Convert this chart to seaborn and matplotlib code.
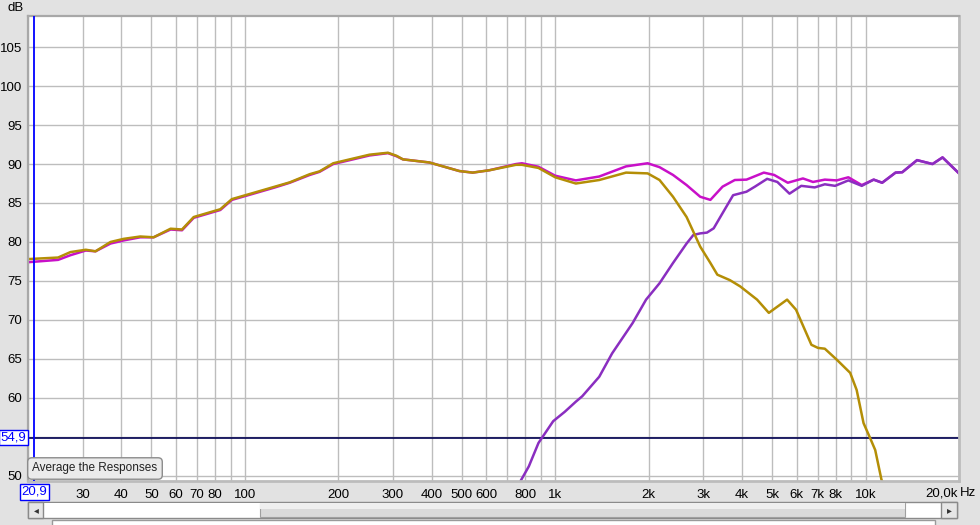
import numpy as np
import pandas as pd
import matplotlib
matplotlib.use("Agg")
import matplotlib.pyplot as plt
from matplotlib.patches import Rectangle
import seaborn as sns

# summed response (magenta)
sum_hz = [20, 25, 27.4, 30.7, 33, 36.9, 40.7, 46, 50.8, 57.6, 62.7, 68.4, 75.5, 83.3, 90.8,
          106.6, 125, 139.5, 161.8, 174, 192.6, 223, 252, 289, 308, 323, 393, 491, 542, 613,
          747, 781, 883, 1000, 1165, 1386, 1691, 1985, 2168, 2396, 2650, 2932, 3162, 3461,
          3790, 4134, 4700, 5075, 5614, 6283, 6770, 7390, 8070, 8800, 9720, 10620, 11310,
          12490, 13130, 14650, 16430, 17700, 20000]
sum_db = [77.4, 77.7, 78.3, 78.9, 78.8, 79.8, 80.2, 80.6, 80.6, 81.6, 81.5, 83.1, 83.6, 84.1, 85.4,
          86.2, 87.0, 87.6, 88.6, 89.0, 90.0, 90.6, 91.1, 91.4, 91.0, 90.6, 90.2, 89.1, 88.9, 89.2,
          90.0, 90.1, 89.65, 88.5, 87.9, 88.4, 89.7, 90.1, 89.6, 88.6, 87.3, 85.8, 85.4, 87.1,
          87.95, 88.0, 88.9, 88.6, 87.6, 88.15, 87.7, 88.0, 87.9, 88.3, 87.3, 88.0, 87.6,
          88.9, 88.95, 90.5, 90.0, 90.85, 88.8]

# woofer (gold)
woofer_hz = [20, 25, 27.4, 30.7, 33, 36.9, 40.7, 46, 50.8, 57.6, 62.7, 68.4, 75.5, 83.3, 90.8,
             106.6, 125, 139.5, 161.8, 174, 192.6, 223, 252, 289, 308, 323, 393, 491, 542, 613,
             747, 781, 883, 1000, 1165, 1386, 1691, 1985, 2168, 2396, 2650, 2932, 3162, 3329,
             3654, 3943, 4470, 4878, 5586, 5970, 6690, 7027, 7390, 8070, 8920, 9360, 9850,
             10350, 10740, 11250, 11450]
woofer_db = [77.8, 78.0, 78.7, 79.0, 78.8, 80.0, 80.4, 80.7, 80.6, 81.7, 81.6, 83.2, 83.7, 84.2, 85.5,
             86.3, 87.1, 87.65, 88.7, 89.06, 90.1, 90.7, 91.2, 91.45, 91.06, 90.6, 90.2, 89.1, 88.9, 89.2,
             89.9, 89.9, 89.5, 88.3, 87.5, 87.95, 88.9, 88.8, 87.95, 85.8, 83.2, 79.4, 77.3, 75.8,
             75.1, 74.3, 72.6, 70.9, 72.6, 71.3, 66.8, 66.4, 66.3, 64.9, 63.2, 61.0, 56.75,
             54.8, 53.3, 49.5, 48.8]

# tweeter (purple)
tweeter_hz = [765, 822, 883, 985, 1073, 1165, 1222, 1386, 1525, 1776, 1962, 2168, 2396, 2650,
              2787, 2932, 3082, 3240, 3461, 3742, 4134, 4400, 4816, 5196, 5686, 6205, 6855,
              7390, 7975, 8800, 9720, 10620, 11310, 12490, 13130, 14650, 16430, 17700, 20000]
tweeter_db = [49.0, 51.2, 54.2, 57.0, 58.2, 59.5, 60.2, 62.7, 65.7, 69.6, 72.6, 74.7, 77.3, 79.8,
              80.9, 81.1, 81.2, 81.75, 83.7, 86.0, 86.45, 87.1, 88.1, 87.7, 86.2, 87.2, 87.0,
              87.4, 87.2, 87.9, 87.2, 88.0, 87.6, 88.9, 88.95, 90.5, 90.0, 90.85, 88.8]

xtick_hz = [20, 30, 40, 50, 60, 70, 80, 90, 100, 200, 300, 400, 500, 600, 700, 800, 900,
            1000, 2000, 3000, 4000, 5000, 6000, 7000, 8000, 9000, 10000, 20000]
xtick_lbl = ["", "30", "40", "50", "60", "70", "80", "", "100", "200", "300", "400", "500",
             "600", "", "800", "", "1k", "2k", "3k", "4k", "5k", "6k", "7k", "8k", "", "10k", ""]
ytick_db = [50, 55, 60, 65, 70, 75, 80, 85, 90, 95, 100, 105]
ytick_lbl = ["50", "", "60", "65", "70", "75", "80", "85", "90", "95", "100", "105"]

df = pd.concat([
    pd.DataFrame({"hz": sum_hz, "db": sum_db, "trace": "sum"}),
    pd.DataFrame({"hz": tweeter_hz, "db": tweeter_db, "trace": "tweeter"}),
    pd.DataFrame({"hz": woofer_hz, "db": woofer_db, "trace": "woofer"}),
])
colors = {"sum": "#c810c8", "tweeter": "#8a2ec0", "woofer": "#b48e06"}

plt.rcParams["font.family"] = ["Liberation Sans", "DejaVu Sans"]

W, H = 980, 525
bg = "#e2e2e2"
fig = plt.figure(figsize=(W / 100, H / 100), dpi=100, facecolor=bg)


def px(x, y):
    return x / W, 1 - y / H


# background decorations in pixel space (scrollbar etc.)
deco = fig.add_axes([0, 0, 1, 1], zorder=-1)
deco.set_xlim(0, W)
deco.set_ylim(H, 0)
deco.axis("off")
deco.add_patch(Rectangle((28, 502), 929, 16, fc="white", ec="#8a8a8a", lw=1))
deco.add_patch(Rectangle((44, 503), 216, 14, fc="white", ec="none"))
deco.add_patch(Rectangle((260, 503), 645, 14, fc="#dadada", ec="#a0a0a0", lw=0.8))
deco.add_patch(Rectangle((260, 503), 645, 6, fc="#efefef", ec="none"))
deco.add_patch(Rectangle((28, 502), 15, 16, fc="#e6e6e6", ec="#8a8a8a", lw=1))
deco.add_patch(Rectangle((941, 502), 16, 16, fc="#e6e6e6", ec="#8a8a8a", lw=1))
deco.text(36, 510, "\u25c2", fontsize=7, ha="center", va="center", color="#333333",
          family="DejaVu Sans")
deco.text(949, 510, "\u25b8", fontsize=7, ha="center", va="center", color="#333333",
          family="DejaVu Sans")
deco.add_patch(Rectangle((52, 520), 883, 10, fc="white", ec="#9a9a9a", lw=1))

ax = fig.add_axes([28 / W, 1 - 481 / H, (959 - 28) / W, (481 - 16) / H])
ax.set_facecolor("white")
sns.lineplot(data=df, x="hz", y="db", hue="trace", palette=colors, sort=False,
             estimator=None, linewidth=1.8, legend=False, ax=ax)
ax.set_xscale("log")
ax.set_xlim(20, 20000)
ax.set_ylim(49.32, 109)
ax.xaxis.set_minor_locator(matplotlib.ticker.NullLocator())
ax.set_xticks(xtick_hz, xtick_lbl)
ax.set_yticks(ytick_db, ytick_lbl)
ax.tick_params(length=0, labelsize=9.5, colors="black", pad=6)
ax.tick_params(axis="y", pad=4)
ax.grid(True, which="major", color="#bdbdbd", lw=1)
ax.set_axisbelow(True)
ax.set_xlabel("")
ax.set_ylabel("")
for side in ["left", "top"]:
    ax.spines[side].set_color("#a8a8a8")
    ax.spines[side].set_linewidth(1.6)
for side in ["right", "bottom"]:
    ax.spines[side].set_color("#bcbcbc")
    ax.spines[side].set_linewidth(2)

# cursor lines
ax.axvline(20.9, color="#0000ff", lw=1.3, zorder=5)
ax.axhline(54.9, color="#000050", lw=1.2, zorder=1.5)

# texts in pixel positions
fig.text(*px(16, 8), "dB", fontsize=9.5, ha="center", va="center")
fig.text(*px(941, 493), "20,0k", fontsize=9.5, ha="center", va="center")
fig.text(*px(968, 493), "Hz", fontsize=9.5, ha="center", va="center")
fig.text(*px(13.5, 437.5), "54,9", fontsize=9.5, ha="center", va="center", color="#0000ff",
         bbox=dict(boxstyle="square,pad=0.1", fc="white", ec="#0000ff", lw=1))
fig.text(*px(34.5, 492), "20,9", fontsize=9.5, ha="center", va="center", color="#0000ff",
         bbox=dict(boxstyle="square,pad=0.15", fc="white", ec="#0000ff", lw=1))
fig.text(*px(95, 468.5), "Average the Responses", fontsize=8.5, ha="center", va="center",
         color="#222222",
         bbox=dict(boxstyle="round,pad=0.4,rounding_size=0.35", fc="#ebebeb", ec="#8c8c8c", lw=1))

fig.savefig("out.png", dpi=100, facecolor=bg)
